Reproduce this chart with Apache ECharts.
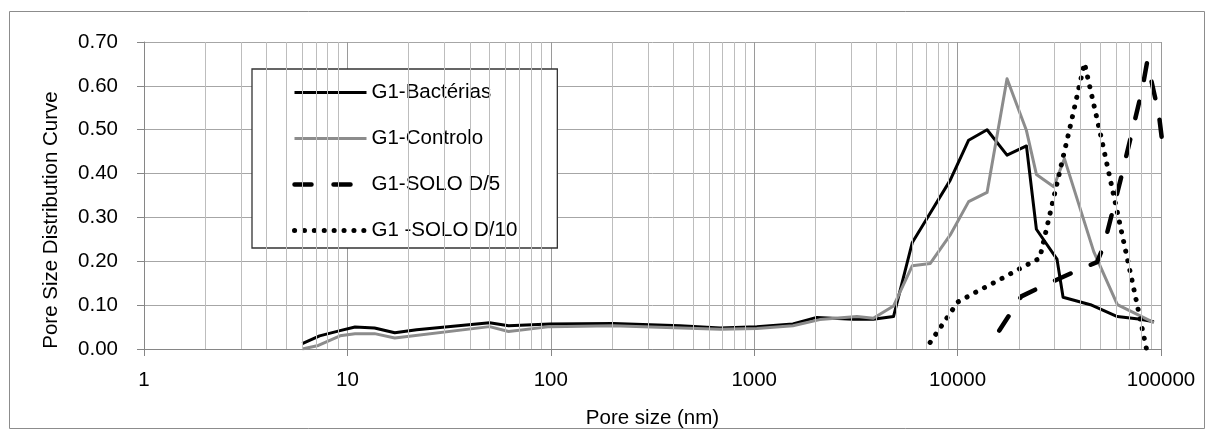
<!DOCTYPE html>
<html>
<head>
<meta charset="utf-8">
<script src="https://cdn.jsdelivr.net/npm/echarts@6/dist/echarts.min.js"></script>
<style>
html,body{margin:0;padding:0;background:#fff;}
#chart{width:1214px;height:432px;}
</style>
</head>
<body>
<div id="chart"></div>
<script>
// ---- data ----
const seriesNames = ['G1-Bactérias', 'G1-Controlo', 'G1-SOLO D/5', 'G1 -SOLO D/10'];

const bactX = [6, 7.3, 9.2, 10.9, 13.6, 17.1, 21.9, 50, 62, 99, 202, 432, 680, 1030, 1550, 2030, 3070, 3850, 4840, 5990, 7340, 9200, 11330, 13960, 17500, 21800, 24400, 30800, 33000, 45000, 61000, 79300, 92300];
const bactY = [0.012, 0.030, 0.042, 0.050, 0.048, 0.037, 0.044, 0.060, 0.053, 0.057, 0.058, 0.053, 0.048, 0.051, 0.057, 0.072, 0.068, 0.068, 0.074, 0.243, 0.310, 0.385, 0.476, 0.500, 0.442, 0.463, 0.273, 0.205, 0.118, 0.101, 0.074, 0.068, 0.062];

const ctrlX = [6, 7.2, 9.2, 10.9, 13.6, 17.1, 50, 62, 99, 202, 680, 1030, 1550, 2100, 3200, 3850, 4840, 5990, 7340, 9200, 11330, 13960, 17500, 21800, 24400, 29700, 33500, 46700, 61000, 92300];
const ctrlY = [0.000, 0.008, 0.030, 0.035, 0.035, 0.025, 0.051, 0.040, 0.051, 0.053, 0.045, 0.047, 0.053, 0.067, 0.074, 0.070, 0.098, 0.190, 0.195, 0.260, 0.336, 0.357, 0.616, 0.498, 0.398, 0.370, 0.434, 0.222, 0.101, 0.060];

const d5X = [16030, 20580, 25500, 38700, 48450, 52330, 63200, 80700, 85500, 97600, 103500];
const d5Y = [0.042, 0.120, 0.141, 0.179, 0.198, 0.235, 0.385, 0.590, 0.655, 0.535, 0.440];

const d10X = [7330, 10020, 12220, 16240, 20360, 25340, 30270, 35480, 42050, 50390, 60930, 72140, 84870];
const d10Y = [0.015, 0.107, 0.129, 0.159, 0.184, 0.207, 0.362, 0.500, 0.652, 0.490, 0.313, 0.155, 0.000];

const minorGridX = [2,3,4,5,6,7,8,9, 20,30,40,50,60,70,80,90, 200,300,400,500,600,700,800,900, 2000,3000,4000,5000,6000,7000,8000,9000, 20000,30000,40000,50000,60000,70000,80000,90000];

const xTickLabels = ['1', '10', '100', '1000', '10000', '100000'];
const yTickLabels = ['0.00','0.10','0.20','0.30','0.40','0.50','0.60','0.70'];

// ---- styles ----
const FONT = 'Liberation Sans';
const FS = 20.5;
const styles = [
  {color: '#000', width: 3, type: 'solid', cap: 'butt', join: 'round'},
  {color: '#8c8c8c', width: 3, type: 'solid', cap: 'butt', join: 'round'},
  {color: '#000', width: 4.5, type: [17, 22], cap: 'round', join: 'round'},
  {color: '#000', width: 5, type: [0.1, 9.8], cap: 'round', join: 'round'}
];
const dataSets = [[bactX, bactY], [ctrlX, ctrlY], [d5X, d5Y], [d10X, d10Y]];
const pairs = (xs, ys) => xs.map((x, i) => [x, ys[i]]);

const chart = echarts.init(document.getElementById('chart'), null, {renderer: 'canvas'});

const lineSeries = seriesNames.map((name, i) => ({
  name, type: 'line', data: pairs(dataSets[i][0], dataSets[i][1]),
  symbol: 'none', showSymbol: false, z: 3, clip: i !== 2,
  lineStyle: Object.assign({}, styles[i]),
  itemStyle: {color: styles[i].color}
}));

const option = {
  animation: false,
  backgroundColor: '#fff',
  textStyle: {fontFamily: FONT},
  grid: {left: 144, right: 53, top: 42, bottom: 83, containLabel: false, outerBoundsMode: 'none'},
  xAxis: {
    type: 'log', logBase: 10, min: 1, max: 100000,
    name: 'Pore size (nm)', nameLocation: 'middle', nameGap: 59,
    nameTextStyle: {fontFamily: FONT, fontSize: FS, color: '#000'},
    axisLine: {show: true, onZero: false, lineStyle: {color: '#868686', width: 1}},
    axisTick: {show: true, length: 7, lineStyle: {color: '#868686'}},
    axisLabel: {fontFamily: FONT, fontSize: FS, color: '#000', margin: 21,
      formatter: v => xTickLabels[Math.round(Math.log10(v))]},
    splitLine: {show: true, lineStyle: {color: '#9a9a9a', width: 1}},
    minorTick: {show: false}
  },
  yAxis: {
    type: 'value', min: 0, max: 0.7, interval: 0.1,
    name: 'Pore Size Distribution Curve', nameLocation: 'middle', nameGap: 82,
    nameTextStyle: {fontFamily: FONT, fontSize: FS, color: '#000', padding: [0, 49, 0, 0]},
    axisLine: {show: true, lineStyle: {color: '#868686', width: 1}},
    axisTick: {show: true, length: 7, lineStyle: {color: '#868686'}},
    axisLabel: {fontFamily: FONT, fontSize: FS, color: '#000', margin: 26,
      formatter: v => yTickLabels[Math.round(v * 10)]},
    splitLine: {show: true, lineStyle: {color: '#a6a6a6', width: 1}}
  },
  legend: {
    orient: 'vertical',
    left: 252, top: 69,
    data: seriesNames.map((name, i) => ({
      name,
      itemStyle: {opacity: 0, color: 'rgba(0,0,0,0)', borderWidth: 0},
      lineStyle: Object.assign({}, styles[i])
    })),
    itemWidth: 72, itemHeight: 20, itemGap: 25,
    padding: [13, 40, 7, 40],
    backgroundColor: '#fff',
    borderColor: '#333', borderWidth: 1.3, borderRadius: 0,
    textStyle: {fontFamily: FONT, fontSize: FS, color: '#000'}
  },
  graphic: [{
    type: 'rect', silent: true, z: 100,
    shape: {x: 9.5, y: 11.5, width: 1195, height: 417},
    style: {fill: 'none', stroke: '#8c8c8c', lineWidth: 1}
  }],
  series: [
    {
      name: '__minor', type: 'line', data: [], silent: true, z: 1,
      markLine: {
        silent: true, symbol: ['none', 'none'], animation: false,
        label: {show: false},
        lineStyle: {color: '#bdbdbd', width: 1, type: 'solid'},
        data: minorGridX.map(v => ({xAxis: v}))
      }
    }
  ].concat(lineSeries)
};
chart.setOption(option);
</script>
</body>
</html>
